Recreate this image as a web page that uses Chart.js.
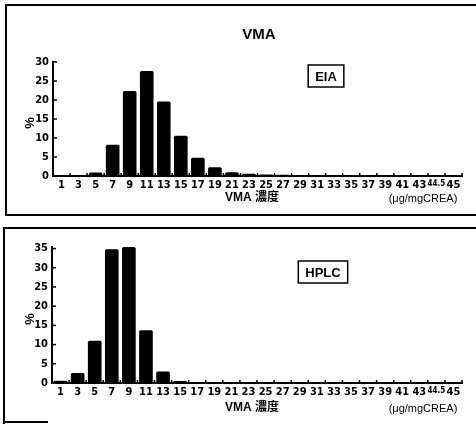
<!DOCTYPE html>
<html>
<head>
<meta charset="utf-8">
<script src="https://cdn.jsdelivr.net/npm/chart.js@4/dist/chart.umd.min.js"></script>
<style>
  html, body { margin:0; padding:0; background:#fff; }
  body { width:476px; height:424px; position:relative; overflow:hidden; }
  .frame { position:absolute; box-sizing:content-box; }
  #f1 { left:5px; top:4px; width:480px; height:208px; border:2px solid #000; }
  #f2 { left:3px; top:227px; width:480px; height:200px; border-top:2px solid #000; border-left:2px solid #000; }
  #f3 { left:3px; top:421px; width:45px; height:0; border-top:2px solid #000; }
  canvas { position:absolute; left:0; }
  #c1 { top:0; }
  #c2 { top:220px; }
</style>
</head>
<body>
<div class="frame" id="f1"></div>
<div class="frame" id="f2"></div>
<div class="frame" id="f3"></div>
<canvas id="c1" width="476" height="216"></canvas>
<canvas id="c2" width="476" height="204"></canvas>
<script>
const categories = ['1','3','5','7','9','11','13','15','17','19','21','23','25','27','29','31','33','35','37','39','41','43','44.5','45'];
const eiaValues  = [0, 0, 0.9, 8.2, 22.4, 27.6, 19.6, 10.6, 4.8, 2.3, 1.0, 0.6, 0.4, 0.3, 0.1, 0.15, 0, 0, 0, 0, 0, 0, 0, 0];
const hplcValues = [0.6, 2.6, 11.0, 34.8, 35.4, 13.7, 3.0, 0.5, 0, 0, 0, 0, 0, 0, 0, 0, 0, 0, 0, 0, 0, 0, 0, 0];
const eiaYTicks  = [0, 5, 10, 15, 20, 25, 30];
const hplcYTicks = [0, 5, 10, 15, 20, 25, 30, 35];
const chartTitle = 'VMA';
const xTitle = 'VMA 濃度';
const unitText = '(μg/mgCREA)';
const yTitle = '%';

const narrow = "'Liberation Sans Narrow', 'DejaVu Sans Condensed', sans-serif";

const innerTicks = {
  id: 'innerTicks',
  afterDatasetsDraw(chart) {
    const ctx = chart.ctx, x = chart.scales.x, y = chart.scales.y;
    const a = chart.chartArea;
    ctx.save();
    ctx.strokeStyle = '#000';
    ctx.lineWidth = 1.5;
    y.ticks.forEach((t, i) => {
      const py = y.getPixelForTick(i);
      ctx.beginPath(); ctx.moveTo(a.left, py); ctx.lineTo(a.left + 4, py); ctx.stroke();
    });
    const n = x.ticks.length;
    for (let i = 0; i <= n; i++) {
      let px;
      if (i === 0) px = a.left;
      else if (i === n) px = a.right;
      else px = (x.getPixelForTick(i - 1) + x.getPixelForTick(i)) / 2;
      ctx.beginPath(); ctx.moveTo(px, a.bottom); ctx.lineTo(px, a.bottom - 3); ctx.stroke();
    }
    ctx.restore();
  }
};

const annotations = {
  id: 'annotations',
  afterDraw(chart, args, opts) {
    const ctx = chart.ctx;
    const a = chart.chartArea;
    ctx.save();
    ctx.fillStyle = '#000';
    ctx.strokeStyle = '#000';
    ctx.textAlign = 'center';
    ctx.textBaseline = 'middle';
    if (opts.title) {
      ctx.font = "bold 15px 'Liberation Sans', Arial, sans-serif";
      ctx.fillText(opts.title, opts.titleX, opts.titleY);
    }
    ctx.font = "bold 13px 'Liberation Sans', Arial, sans-serif";
    const w = ctx.measureText(opts.method).width + 14;
    ctx.lineWidth = 1.5;
    ctx.strokeRect(opts.boxX - w / 2, opts.boxY - 11, w, 22);
    ctx.fillText(opts.method, opts.boxX, opts.boxY + 1);
    ctx.font = "bold 12px 'Liberation Sans', 'Noto Sans CJK JP', sans-serif";
    ctx.fillText(xTitle, 252, a.bottom + opts.titleGap);
    ctx.font = "11px 'Liberation Sans', 'Noto Sans CJK JP', sans-serif";
    ctx.fillText(unitText, 423, a.bottom + opts.titleGap + 1);
    ctx.font = "bold 13px 'Liberation Sans', sans-serif";
    ctx.translate(30, (a.top + a.bottom) / 2 + 4);
    ctx.rotate(-Math.PI / 2);
    ctx.fillText(yTitle, 0, 0);
    ctx.restore();
  }
};

function makeChart(id, values, yTicks, yMax, padTop, xHeight, yWidth, ann) {
  return new Chart(document.getElementById(id), {
    type: 'bar',
    data: {
      labels: categories,
      datasets: [{
        data: values,
        backgroundColor: '#000',
        borderWidth: 0,
        borderRadius: 1.5,
        borderSkipped: 'bottom',
        barPercentage: 0.8,
        categoryPercentage: 1.0
      }]
    },
    options: {
      responsive: false,
      animation: false,
      events: [],
      layout: { padding: { left: 0, right: 14, top: padTop, bottom: 0 } },
      plugins: {
        legend: { display: false },
        tooltip: { enabled: false },
        annotations: ann
      },
      scales: {
        x: {
          offset: true,
          grid: { display: false, drawTicks: false },
          border: { display: true, color: '#000', width: 2 },
          ticks: {
            color: '#000',
            font: (c) => (c.tick && c.tick.label === '44.5')
              ? { family: narrow, size: 8, weight: 'bold' }
              : { family: narrow, size: 11, weight: 'bold' },
            padding: 3, maxRotation: 0, autoSkip: false
          },
          afterFit(s) { s.height = xHeight; }
        },
        y: {
          min: 0,
          max: yMax,
          grid: { display: false, drawTicks: false },
          border: { display: true, color: '#000', width: 2 },
          afterBuildTicks(s) { s.ticks = yTicks.map(v => ({ value: v })); },
          ticks: { color: '#000', font: { family: narrow, size: 11, weight: 'bold' }, padding: 4, includeBounds: false },
          afterFit(s) { s.width = yWidth; }
        }
      }
    },
    plugins: [innerTicks, annotations]
  });
}

makeChart('c1', eiaValues, eiaYTicks, 30, 62, 40, 53,
  { title: chartTitle, titleX: 259, titleY: 35, method: 'EIA', boxX: 326, boxY: 76, titleGap: 22 });
makeChart('c2', hplcValues, hplcYTicks, 35.4, 27, 41, 52,
  { title: '', method: 'HPLC', boxX: 323, boxY: 52, titleGap: 25 });
</script>
</body>
</html>
